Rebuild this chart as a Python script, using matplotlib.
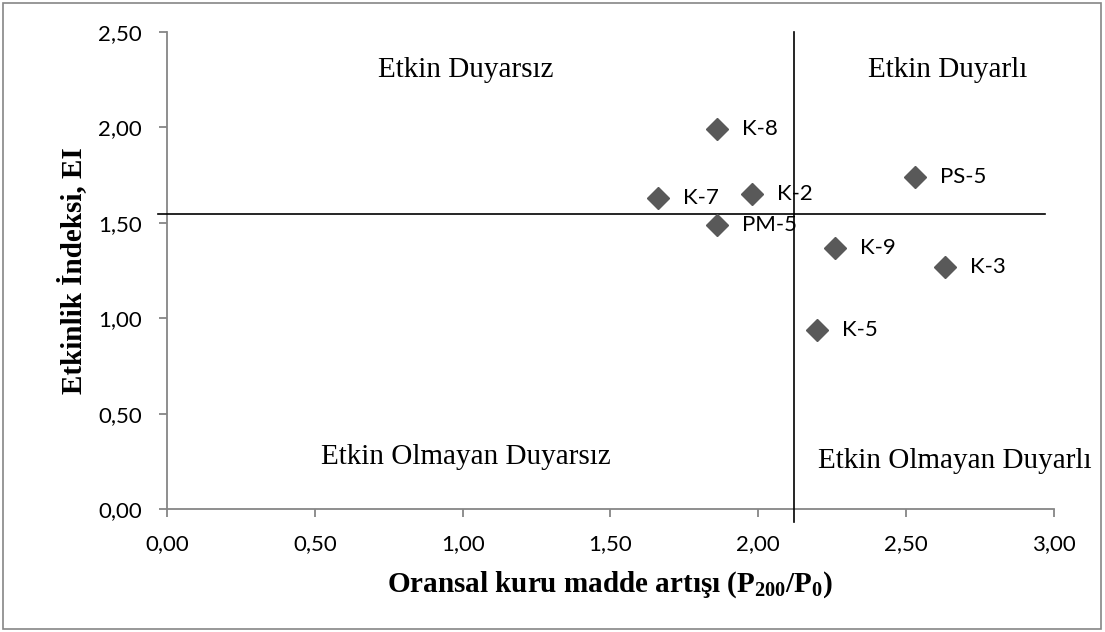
import matplotlib.pyplot as plt
from matplotlib.patches import Rectangle
from matplotlib.ticker import FuncFormatter

plt.rcParams['mathtext.fontset'] = 'custom'
plt.rcParams['mathtext.rm'] = 'Liberation Serif'
plt.rcParams['mathtext.bf'] = 'Liberation Serif:bold'

# data
names = ["K-8", "PS-5", "K-7", "K-2", "PM-5", "K-9", "K-3", "K-5"]
x_vals = [1.86, 2.53, 1.66, 1.98, 1.86, 2.26, 2.63, 2.20]
y_vals = [1.99, 1.74, 1.63, 1.65, 1.49, 1.37, 1.27, 0.94]
x_split = 2.12
y_split = 1.546
x_ticks = [0, 0.5, 1.0, 1.5, 2.0, 2.5, 3.0]
y_ticks = [0, 0.5, 1.0, 1.5, 2.0, 2.5]
quad_labels = ["Etkin Duyarsız", "Etkin Duyarlı", "Etkin Olmayan Duyarsız", "Etkin Olmayan Duyarlı"]
quad_pos = [(1.01, 2.30), (2.64, 2.30), (1.01, 0.27), (2.665, 0.25)]

fig = plt.figure(figsize=(11.05, 6.32), dpi=100)
ax = fig.add_axes([0.1511, 0.1946, 0.9538 - 0.1511, 0.9494 - 0.1946])

gray = '#868686'
ax.set_xlim(0, 3)
ax.set_ylim(0, 2.5)
ax.set_xticks(x_ticks)
ax.set_yticks(y_ticks)
fmt = FuncFormatter(lambda v, p: f"{v:.2f}".replace('.', ','))
ax.xaxis.set_major_formatter(fmt)
ax.yaxis.set_major_formatter(fmt)
for s in ['top', 'right']:
    ax.spines[s].set_visible(False)
for s in ['left', 'bottom']:
    ax.spines[s].set_color(gray)
    ax.spines[s].set_linewidth(1.3)
ax.tick_params(direction='out', length=6, width=1.3, color=gray,
               labelsize=16, labelcolor='black', pad=12)
for lab in ax.get_xticklabels() + ax.get_yticklabels():
    lab.set_family('Lato')

# quadrant lines
ax.plot([-0.03, 2.97], [y_split, y_split], color='black', lw=1.2, clip_on=False, zorder=3)
ax.plot([x_split, x_split], [-0.07, 2.5], color='black', lw=1.2, clip_on=False, zorder=3)

ax.plot(x_vals, y_vals, linestyle='none', marker='D', markersize=11,
        color='#595959', zorder=4)
for n, xv, yv in zip(names, x_vals, y_vals):
    ax.annotate(n, (xv, yv), xytext=(18, 0), textcoords='offset points',
                va='center', ha='left', fontsize=16, family='Lato', zorder=5)

for t, (qx, qy) in zip(quad_labels, quad_pos):
    ax.text(qx, qy, t, ha='center', va='center', fontsize=21,
            family='Liberation Serif')

ax.set_xlabel(r'Oransal kuru madde artışı (P$\mathbf{_{200}}$/P$\mathbf{_{0}}$)',
              family='Liberation Serif', fontweight='bold', fontsize=21)
ax.set_ylabel('Etkinlik İndeksi, EI', family='Liberation Serif',
              fontweight='bold', fontsize=21)
ax.xaxis.label.set_va('center')
ax.yaxis.label.set_va('center')
ax.xaxis.set_label_coords(0.5, -0.159)
ax.yaxis.set_label_coords(-0.107, 0.5)

fig.patches.append(Rectangle((0.003, 0.005), 0.993, 0.99, transform=fig.transFigure,
                             fill=False, edgecolor=gray, lw=1.2))

fig.savefig('out.png', dpi=100)
